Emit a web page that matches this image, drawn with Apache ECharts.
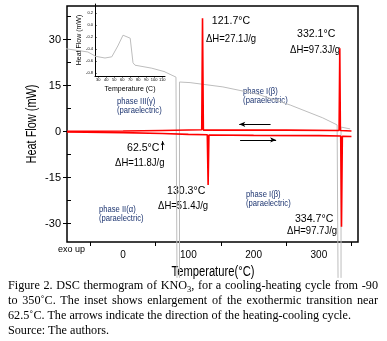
<!DOCTYPE html>
<html>
<head>
<meta charset="utf-8">
<script src="https://cdn.jsdelivr.net/npm/echarts@6/dist/echarts.min.js"></script>
<style>
  html, body { margin: 0; padding: 0; background: #fff; }
  #chart { position: absolute; left: 0; top: 0; width: 387px; height: 341px; }
  #caption {
    position: absolute; left: 8px; top: 278px; width: 370px;
    font-family: "Liberation Serif", "Times New Roman", serif;
    font-size: 12.2px; line-height: 15px; color: #000; white-space: nowrap;
  }
  #caption .j { text-align: justify; text-align-last: justify; }
  sub { font-size: 8.5px; line-height: 0; }
</style>
</head>
<body>
<div id="chart"></div>
<div id="caption">
  <div class="j">Figure 2. DSC thermogram of KNO<sub>3</sub>, for a cooling-heating cycle from -90</div>
  <div class="j">to 350˚C. The inset shows enlargement of the exothermic transition near</div>
  <div>62.5˚C. The arrows indicate the direction of the heating-cooling cycle.</div>
  <div>Source: The authors.</div>
</div>
<script>
// DSC curves, [temperature °C, heat flow mW]
const coolingCurve = [[350, 0.2], [333, 0.4], [332.1, 27.2], [331, 0.4], [250, 0.5], [180, 0.5],
  [123, 0.5], [121.7, 37.0], [120.5, 0.6], [60, 0.4], [0, 0.2], [-86, 0.1]];
const heatingCurve = [[-86, -0.1], [0, -0.3], [60, -0.6], [100, -0.9], [129, -1.0], [130.3, -17.4],
  [131.5, -1.1], [200, -1.2], [300, -1.3], [333.5, -1.4], [334.7, -31.0], [336, -1.5], [350, -1.6]];

// grey trace (parts outside the inset)
const greyLeft = [[-150, 28.9], [-86, 27.0], [-54, 26.0], [-43, 24.7]];
const greyMid = [[64, 19.5], [81, 17.8], [82.6, -47.7]];
const greyDrop = [[86.4, 16.2], [86.4, -47.7]];
const greyRight = [[86.4, 16.2], [102.6, 16.0], [153, 14.6], [205, 12.3], [256, 8.7], [306, 4.5],
  [328, 2.2], [329.4, -47.7]];
const greyDrop2 = [[334, 1.5], [334, -47.7]];
const greyTail = [[334, 1.5], [348, 0.9]];

// inset: enlargement near 62.5 °C
const insetCurve = [[26, -0.52], [38.5, -0.55], [47, -0.53], [54.5, -0.35], [61, -0.17], [63.5, -0.15],
  [70, -0.22], [72, -0.25], [73.5, -0.63], [76, -0.67], [97, -0.72], [113.5, -0.78]];
const insetXTicks = [30, 40, 50, 60, 70, 80, 90, 100, 110];
const insetYTicks = [0.2, 0.0, -0.2, -0.4, -0.6, -0.8];

const xLabels = [0, 100, 200, 300];
const xTicks = [-50, 50, 150, 250, 350];
const yLabels = [-30, -15, 0, 15, 30];
const yMinor = [-30, -22.5, -15, -7.5, 0, 7.5, 15, 22.5, 30, 37.5];

// annotations [temperature, heat flow, text]
const peakNotes = [
  [136, 38.1, '121.7°C'], [127, 32.2, 'ΔH=27.1J/g'],
  [266.5, 33.8, '332.1°C'], [255.8, 28.6, 'ΔH=97.3J/g'],
  [6, -3.3, '62.5°C'], [-12.4, -8.2, 'ΔH=11.8J/g'],
  [67.3, -17.4, '130.3°C'], [53.5, -22.3, 'ΔH=51.4J/g'],
  [263.4, -26.5, '334.7°C'], [251.2, -30.4, 'ΔH=97.7J/g']
];
const phaseNotes = [
  [-9.3, 11.3, 'phase III(γ)\n(paraelectric)'],
  [183.9, 14.6, 'phase I(β)\n(paraelectric)'],
  [-37, -23.9, 'phase II(α)\n(paraelectric)'],
  [188.4, -19.0, 'phase I(β)\n(paraelectric)']
];
const arrows = [
  [[178, 2.4], [226, 2.4], 'left'],
  [[179.3, -2.7], [234.5, -2.7], 'right'],
  [[60.7, -6.0], [60.7, -3.1], 'up']
];

const sans = 'Liberation Sans, Arial, sans-serif';
const grey = '#bdbdbd';

function greyLine(data) {
  return {
    type: 'line', data: data, xAxisIndex: 0, yAxisIndex: 0, clip: false, showSymbol: false,
    lineStyle: { color: grey, width: 1 }, silent: true, z: 1
  };
}

const chart = echarts.init(document.getElementById('chart'));
chart.setOption({
  animation: false,
  grid: [
    { left: 67, top: 6, width: 291, height: 236, show: true, borderColor: '#000', borderWidth: 1.5, outerBoundsMode: 'none' },
    { left: 95, top: 4, width: 70, height: 72, outerBoundsMode: 'none' }
  ],
  xAxis: [
    {
      gridIndex: 0, type: 'value', min: -86, max: 360, position: 'bottom',
      axisLine: { show: false, onZero: false }, splitLine: { show: false },
      axisTick: { show: true, length: 4, customValues: xTicks, lineStyle: { color: '#000' } },
      axisLabel: { customValues: xLabels, fontFamily: sans, fontSize: 10, color: '#000', margin: 8 }
    },
    {
      gridIndex: 1, type: 'value', min: 26, max: 113.5, position: 'bottom',
      name: 'Temperature (C)', nameLocation: 'middle', nameGap: 10,
      nameTextStyle: { fontFamily: sans, fontSize: 7, color: '#000' },
      axisLine: { show: true, onZero: false, lineStyle: { color: '#000', width: 1 } }, splitLine: { show: false },
      axisTick: { show: true, length: 1.5, customValues: insetXTicks, lineStyle: { color: '#000' } },
      axisLabel: { customValues: insetXTicks, fontFamily: sans, fontSize: 4, color: '#000', margin: 2 }
    }
  ],
  yAxis: [
    {
      gridIndex: 0, type: 'value', min: -36, max: 41, position: 'left',
      axisLine: { show: false, onZero: false }, splitLine: { show: false },
      axisTick: { show: true, length: 4, customValues: yLabels, lineStyle: { color: '#000' } },
      axisLabel: { customValues: yLabels, fontFamily: sans, fontSize: 11, color: '#000', margin: 6 }
    },
    {
      gridIndex: 0, type: 'value', min: -36, max: 41, position: 'left',
      axisLine: { show: false, onZero: false }, splitLine: { show: false }, axisLabel: { show: false },
      axisTick: { show: true, inside: true, length: 4, customValues: yMinor, lineStyle: { color: '#000' } }
    },
    {
      gridIndex: 1, type: 'value', min: -0.85, max: 0.35, position: 'left',
      name: 'Heat Flow (mW)', nameLocation: 'middle', nameGap: 12,
      nameTextStyle: { fontFamily: sans, fontSize: 7, color: '#000' },
      axisLine: { show: true, onZero: false, lineStyle: { color: '#000', width: 1 } }, splitLine: { show: false },
      axisTick: { show: true, inside: true, length: 1.5, customValues: insetYTicks, lineStyle: { color: '#000' } },
      axisLabel: { customValues: insetYTicks, fontFamily: sans, fontSize: 4, color: '#000', margin: 2,
        formatter: v => v.toFixed(1) }
    }
  ],
  series: [
    greyLine(greyLeft), greyLine(greyMid), greyLine(greyDrop), greyLine(greyRight),
    greyLine(greyDrop2), greyLine(greyTail),
    {
      type: 'line', data: insetCurve, xAxisIndex: 1, yAxisIndex: 2, showSymbol: false,
      lineStyle: { color: grey, width: 1 }, silent: true, z: 1
    },
    {
      type: 'line', data: coolingCurve, xAxisIndex: 0, yAxisIndex: 0, showSymbol: false,
      lineStyle: { color: '#ff0000', width: 1.6 }, silent: true, z: 3
    },
    {
      type: 'line', data: heatingCurve, xAxisIndex: 0, yAxisIndex: 0, showSymbol: false,
      lineStyle: { color: '#ff0000', width: 1.6 }, silent: true, z: 3,
      markLine: {
        silent: true, animation: false, label: { show: false },
        lineStyle: { color: '#000', width: 1, type: 'solid' },
        data: arrows.map(a => [
          { coord: a[0], symbol: a[2] === 'left' ? 'arrow' : 'none', symbolSize: [4, 6] },
          { coord: a[1], symbol: a[2] === 'left' ? 'none' : 'arrow', symbolSize: a[2] === 'up' ? [3, 4] : [4, 6] }
        ])
      }
    }
  ]
});

// texts placed from data coordinates
const toPx = (t, v) => chart.convertToPixel({ gridIndex: 0 }, [t, v]);
const graphics = [
  { type: 'text', x: 58, y: 245, style: { text: 'exo up', font: '9px ' + sans, fill: '#000' } },
  { type: 'text', x: 213, y: 265, scaleX: 0.8, style: { text: 'Temperature(°C)', font: '14px ' + sans, fill: '#000', align: 'center' } },
  { type: 'text', x: 25, y: 124, rotation: Math.PI / 2, scaleX: 0.78, style: { text: 'Heat Flow (mW)', font: '14px ' + sans, fill: '#000', align: 'center' } }
];
peakNotes.forEach(n => {
  const p = toPx(n[0], n[1]);
  const isDelta = n[2].startsWith('Δ');
  graphics.push({ type: 'text', x: p[0], y: p[1], scaleX: isDelta ? 0.83 : 0.92,
    style: { text: n[2], font: '11.5px ' + sans, fill: '#000' } });
});
phaseNotes.forEach(n => {
  const p = toPx(n[0], n[1]);
  graphics.push({ type: 'text', x: p[0], y: p[1], scaleX: 0.85,
    style: { text: n[2], font: '9px ' + sans, fill: '#1c3470', lineHeight: 9 } });
});
chart.setOption({ graphic: graphics });
</script>
</body>
</html>
